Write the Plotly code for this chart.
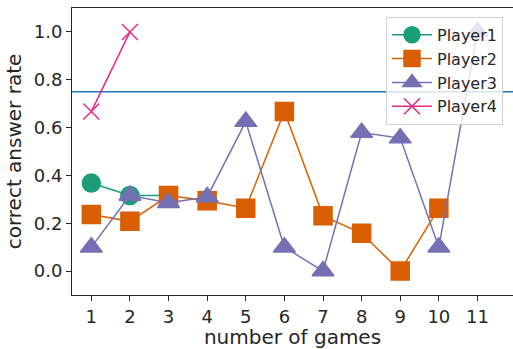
import plotly.graph_objects as go

# correct-answer rate per game for each player
games_p1 = [1, 2, 3]
rate_p1 = [0.368, 0.316, 0.316]

games_p2 = [1, 2, 3, 4, 5, 6, 7, 8, 9, 10]
rate_p2 = [0.237, 0.208, 0.316, 0.294, 0.263, 0.667, 0.231, 0.158, 0.0, 0.263]

games_p3 = [1, 2, 3, 4, 5, 6, 7, 8, 9, 10, 11]
rate_p3 = [0.1, 0.316, 0.286, 0.31, 0.625, 0.1, 0.0, 0.579, 0.556, 0.1, 1.0]

games_p4 = [1, 2]
rate_p4 = [0.667, 1.0]

threshold = 0.75
x_ticks = [1, 2, 3, 4, 5, 6, 7, 8, 9, 10, 11]
y_ticks = [0.0, 0.2, 0.4, 0.6, 0.8, 1.0]

FONT = "DejaVu Sans"
TXT = "#262626"

series = [
    ("Player1", games_p1, rate_p1, "#1b9e77", "circle", 18),
    ("Player2", games_p2, rate_p2, "#d95f02", "square", 18),
    ("Player3", games_p3, rate_p3, "#7570b3", "triangle-up", 19),
    ("Player4", games_p4, rate_p4, "#e7298a", "x-thin", 16),
]

fig = go.Figure()
for name, xs, ys, color, symbol, size in series:
    fig.add_trace(go.Scatter(
        x=xs, y=ys, name=name, mode="lines+markers",
        line=dict(color=color, width=1.5),
        marker=dict(symbol=symbol, size=size, color=color,
                    line=dict(color=color, width=1.5)),
        cliponaxis=False,
    ))

fig.add_hline(y=threshold, line=dict(color="#1f77b4", width=1.5), layer="below")

fig.update_layout(
    width=513, height=349,
    margin=dict(l=72, r=0, t=8, b=54),
    plot_bgcolor="white", paper_bgcolor="white",
    font=dict(family=FONT, size=18, color=TXT),
    showlegend=True,
    legend=dict(
        x=0.712, y=0.969, xanchor="left", yanchor="top",
        bgcolor="rgba(255,255,255,0.8)", bordercolor="#d0d0d0", borderwidth=1,
        font=dict(family=FONT, size=16, color=TXT),
        tracegroupgap=0, itemwidth=40,
    ),
    xaxis=dict(
        range=[0.5, 11.92], tickmode="array", tickvals=x_ticks,
        ticks="outside", ticklen=5, tickwidth=1, tickcolor=TXT,
        showline=True, linecolor=TXT, linewidth=1, mirror=True,
        showgrid=False, zeroline=False,
        tickfont=dict(size=18),
        title=dict(text="number of games", font=dict(size=20), standoff=4),
    ),
    yaxis=dict(
        range=[-0.1, 1.1], tickmode="array", tickvals=y_ticks,
        tickformat=".1f",
        ticks="outside", ticklen=5, tickwidth=1, tickcolor=TXT,
        showline=True, linecolor=TXT, linewidth=1,
        showgrid=False, zeroline=False,
        tickfont=dict(size=18),
        title=dict(text="correct answer rate", font=dict(size=20), standoff=6),
    ),
)

fig.write_html("out.html")
